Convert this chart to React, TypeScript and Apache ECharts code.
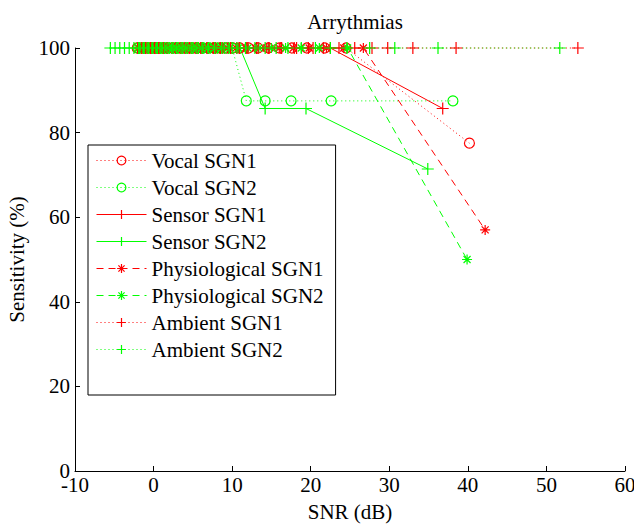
import React, { useEffect, useRef } from "react";
import * as echarts from "echarts";

const xTicks = [-10, 0, 10, 20, 30, 40, 50, 60];
const yTicks = [0, 20, 40, 60, 80, 100];

const vocal1X = [-2.1, -1.6, -1.1, -0.6, -0.2, 0.3, 0.8, 1.3, 1.8, 2.4, 2.9, 3.4, 3.9, 4.5, 5.0, 5.6, 6.2, 6.9, 7.6, 8.4, 9.2, 10.1, 11.0, 12.1, 13.3, 14.6, 16.0, 17.6, 19.5, 21.8, 24.5, 40.2];
const vocal1Y = [100, 100, 100, 100, 100, 100, 100, 100, 100, 100, 100, 100, 100, 100, 100, 100, 100, 100, 100, 100, 100, 100, 100, 100, 100, 100, 100, 100, 100, 100, 100, 77.5];

const vocal2X = [-2.0, -1.5, -1.0, -0.5, 0.0, 0.5, 1.0, 1.5, 2.0, 2.6, 3.1, 3.7, 4.3, 4.9, 5.5, 6.2, 6.9, 7.7, 8.5, 9.3, 10.0, 11.8, 14.2, 17.5, 22.6, 38.1];
const vocal2Y = [100, 100, 100, 100, 100, 100, 100, 100, 100, 100, 100, 100, 100, 100, 100, 100, 100, 100, 100, 100, 100, 87.5, 87.5, 87.5, 87.5, 87.5];

const sensor1X = [-1.9, -1.3, -0.8, -0.3, 0.2, 0.7, 1.2, 1.7, 2.3, 2.8, 3.4, 4.0, 4.6, 5.3, 6.0, 6.8, 7.6, 8.5, 9.5, 10.6, 11.8, 13.1, 14.6, 16.3, 18.2, 20.3, 22.5, 36.8];
const sensor1Y = [100, 100, 100, 100, 100, 100, 100, 100, 100, 100, 100, 100, 100, 100, 100, 100, 100, 100, 100, 100, 100, 100, 100, 100, 100, 100, 100, 85.7];

const sensor2X = [-1.8, -1.2, -0.7, -0.2, 0.4, 0.9, 1.4, 2.0, 2.5, 3.1, 3.7, 4.3, 5.0, 5.7, 6.4, 7.2, 8.1, 9.0, 10.0, 11.0, 14.2, 19.4, 34.9];
const sensor2Y = [100, 100, 100, 100, 100, 100, 100, 100, 100, 100, 100, 100, 100, 100, 100, 100, 100, 100, 100, 100, 85.7, 85.7, 71.4];

const physio1X = [-2.0, -1.4, -0.9, -0.4, 0.1, 0.6, 1.1, 1.6, 2.2, 2.7, 3.3, 3.9, 4.5, 5.2, 5.9, 6.7, 7.5, 8.4, 9.4, 10.5, 11.7, 13.0, 14.4, 16.0, 17.8, 19.8, 22.0, 24.2, 26.7, 42.2];
const physio1Y = [100, 100, 100, 100, 100, 100, 100, 100, 100, 100, 100, 100, 100, 100, 100, 100, 100, 100, 100, 100, 100, 100, 100, 100, 100, 100, 100, 100, 100, 57.0];

const physio2X = [-1.9, -1.4, -0.9, -0.3, 0.2, 0.7, 1.3, 1.8, 2.4, 2.9, 3.5, 4.1, 4.8, 5.4, 6.1, 6.9, 7.8, 8.7, 9.7, 10.8, 12.0, 13.4, 15.0, 16.8, 18.8, 21.1, 24.7, 39.9];
const physio2Y = [100, 100, 100, 100, 100, 100, 100, 100, 100, 100, 100, 100, 100, 100, 100, 100, 100, 100, 100, 100, 100, 100, 100, 100, 100, 100, 100, 50.0];

const ambient1X = [-2.0, -1.5, -1.0, -0.4, 0.1, 0.6, 1.2, 1.7, 2.3, 2.9, 3.5, 4.1, 4.8, 5.5, 6.2, 7.0, 7.9, 8.8, 9.8, 10.9, 12.0, 13.3, 14.7, 16.2, 17.9, 19.7, 21.6, 23.6, 25.6, 27.8, 29.8, 33.0, 38.5, 54.0];
const ambient1Y = [100, 100, 100, 100, 100, 100, 100, 100, 100, 100, 100, 100, 100, 100, 100, 100, 100, 100, 100, 100, 100, 100, 100, 100, 100, 100, 100, 100, 100, 100, 100, 100, 100, 100];

const ambient2X = [-5.5, -4.9, -4.3, -3.7, -3.1, -2.5, -1.9, -1.3, -0.7, -0.1, 0.5, 1.1, 1.7, 2.3, 2.9, 3.5, 4.1, 4.8, 5.5, 6.2, 7.0, 7.8, 8.7, 9.6, 10.6, 11.7, 12.9, 14.2, 15.6, 17.1, 18.8, 20.6, 22.5, 24.6, 27.5, 30.7, 36.2, 51.7];
const ambient2Y = [100, 100, 100, 100, 100, 100, 100, 100, 100, 100, 100, 100, 100, 100, 100, 100, 100, 100, 100, 100, 100, 100, 100, 100, 100, 100, 100, 100, 100, 100, 100, 100, 100, 100, 100, 100, 100, 100];

const seriesNames = [
  "Vocal SGN1",
  "Vocal SGN2",
  "Sensor SGN1",
  "Sensor SGN2",
  "Physiological SGN1",
  "Physiological SGN2",
  "Ambient SGN1",
  "Ambient SGN2",
];

const RED = "#ff0000";
const GREEN = "#00ff00";
const FONT = "Liberation Serif";

const PLUS = "path://M5,0 L5,10 M0,5 L10,5";
const STAR = "path://M5,0 L5,10 M0,5 L10,5 M1.5,1.5 L8.5,8.5 M8.5,1.5 L1.5,8.5";

const DOTTED = [1, 3];
const DASHED = [7, 5];

const zip = (xs: number[], ys: number[]) => xs.map((x, i) => [x, ys[i]]);

const styles: { color: string; type: any; symbol: string; size: number }[] = [
  { color: RED, type: DOTTED, symbol: "circle", size: 10 },
  { color: GREEN, type: DOTTED, symbol: "circle", size: 10 },
  { color: RED, type: "solid", symbol: PLUS, size: 12 },
  { color: GREEN, type: "solid", symbol: PLUS, size: 12 },
  { color: RED, type: DASHED, symbol: STAR, size: 10 },
  { color: GREEN, type: DASHED, symbol: STAR, size: 10 },
  { color: RED, type: DOTTED, symbol: PLUS, size: 12 },
  { color: GREEN, type: DOTTED, symbol: PLUS, size: 12 },
];

const dataX = [vocal1X, vocal2X, sensor1X, sensor2X, physio1X, physio2X, ambient1X, ambient2X];
const dataY = [vocal1Y, vocal2Y, sensor1Y, sensor2Y, physio1Y, physio2Y, ambient1Y, ambient2Y];

export default function App() {
  const ref = useRef<HTMLDivElement>(null);
  useEffect(() => {
    if (!ref.current) return;
    const chart = echarts.init(ref.current, undefined, { renderer: "svg" });
    chart.setOption({
      animation: false,
      backgroundColor: "#ffffff",
      title: {
        text: "Arrythmias",
        left: 350,
        top: 6,
        textAlign: "center",
        textStyle: { fontFamily: FONT, fontSize: 21, fontWeight: "normal", color: "#000" },
      },
      grid: { left: 75, right: 9, top: 48, bottom: 54, containLabel: false, outerBoundsMode: "none" },
      legend: {
        orient: "vertical",
        left: 88,
        top: 145,
        data: seriesNames.map((n, i) => ({
          name: n,
          itemStyle: { color: "none", borderColor: styles[i].color, borderWidth: 1.2 },
          lineStyle: { color: styles[i].color, type: styles[i].type, width: 1 },
        })),
        itemWidth: 50,
        itemHeight: 11,
        itemGap: 6,
        padding: [5, 12, 35, 8],
        backgroundColor: "#ffffff",
        borderColor: "#000",
        borderWidth: 1,
        borderRadius: 0,
        textStyle: { fontFamily: FONT, fontSize: 21, color: "#000" },
        selectedMode: false,
      },
      xAxis: {
        type: "value",
        min: -10,
        max: 60,
        interval: 10,
        name: "SNR (dB)",
        nameLocation: "middle",
        nameGap: 30,
        nameTextStyle: { fontFamily: FONT, fontSize: 21, color: "#000" },
        axisLine: { onZero: false, lineStyle: { color: "#000", width: 1 } },
        axisTick: { inside: true, length: 5, lineStyle: { color: "#000" } },
        axisLabel: { fontFamily: FONT, fontSize: 21, color: "#000", margin: 3, formatter: (v: number) => (xTicks.includes(v) ? String(v) : "") },
        splitLine: { show: false },
      },
      yAxis: {
        type: "value",
        min: 0,
        max: 100,
        interval: 20,
        name: "Sensitivity (%)",
        nameLocation: "middle",
        nameGap: 46,
        nameTextStyle: { fontFamily: FONT, fontSize: 21, color: "#000" },
        axisLine: { show: true, onZero: false, lineStyle: { color: "#000", width: 1 } },
        axisTick: { show: true, inside: true, length: 5, lineStyle: { color: "#000" } },
        axisLabel: { fontFamily: FONT, fontSize: 21, color: "#000", margin: 5, formatter: (v: number) => (yTicks.includes(v) ? String(v) : "") },
        splitLine: { show: false },
      },
      series: seriesNames.map((name, i) => ({
        name,
        type: "line",
        data: zip(dataX[i], dataY[i]),
        symbol: styles[i].symbol,
        symbolSize: styles[i].size,
        showAllSymbol: true,
        clip: false,
        lineStyle: { color: styles[i].color, width: 1, type: styles[i].type },
        itemStyle: { color: "none", borderColor: styles[i].color, borderWidth: 1.2 },
        emphasis: { disabled: true },
      })),
    });
    return () => chart.dispose();
  }, []);
  return <div ref={ref} style={{ width: 634, height: 525, position: "absolute", left: 0, top: 0 }} />;
}
